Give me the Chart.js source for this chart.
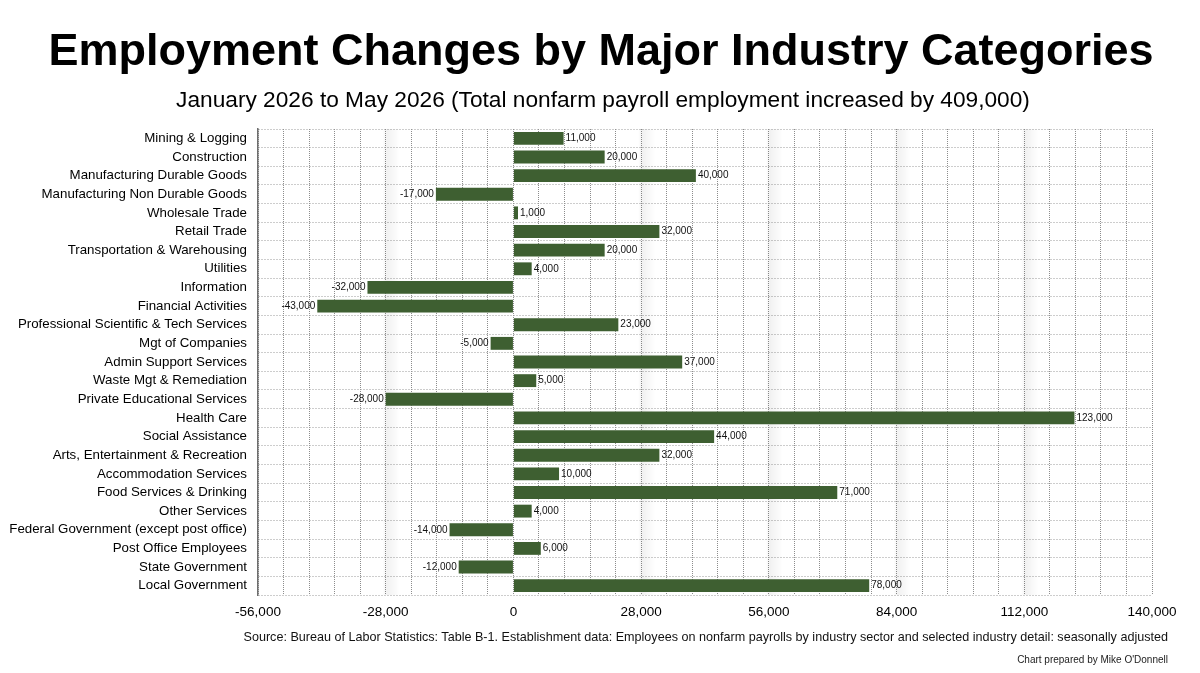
<!DOCTYPE html>
<html>
<head>
<meta charset="utf-8">
<script src="https://cdn.jsdelivr.net/npm/chart.js@4.4.1/dist/chart.umd.min.js"></script>
<style>
  html, body { margin: 0; padding: 0; background: #fff; }
  #wrap { position: relative; width: 1200px; height: 673px; }
  #chart { position: absolute; left: 0; top: 0; }
  .txt { position: absolute; font-family: "Liberation Sans", Arial, sans-serif; color: #000; white-space: nowrap; line-height: 1; }
  #title { left: 0; width: 1202px; top: 27px; text-align: center; font-size: 45px; font-weight: bold; }
  #subtitle { left: 0; width: 1206px; top: 88px; text-align: center; font-size: 22.7px; }
  #source { right: 32px; top: 631px; font-size: 12.6px; color: #111; }
  #credit { right: 32px; top: 655px; font-size: 10px; color: #222; }
</style>
</head>
<body>
<div id="wrap">
  <canvas id="chart" width="1200" height="673"></canvas>
  <div id="title" class="txt">Employment Changes by Major Industry Categories</div>
  <div id="subtitle" class="txt">January 2026 to May 2026 (Total nonfarm payroll employment increased by 409,000)</div>
  <div id="source" class="txt">Source: Bureau of Labor Statistics: Table B-1. Establishment data: Employees on nonfarm payrolls by industry sector and selected industry detail: seasonally adjusted</div>
  <div id="credit" class="txt">Chart prepared by Mike O'Donnell</div>
</div>
<script>
// 산업별 고용 변화 (2026년 1월 ~ 5월)
const industries = [
	'Mining & Logging',
	'Construction',
	'Manufacturing Durable Goods',
	'Manufacturing Non Durable Goods',
	'Wholesale Trade',
	'Retail Trade',
	'Transportation & Warehousing',
	'Utilities',
	'Information',
	'Financial Activities',
	'Professional Scientific & Tech Services',
	'Mgt of Companies',
	'Admin Support Services',
	'Waste Mgt & Remediation',
	'Private Educational Services',
	'Health Care',
	'Social Assistance',
	'Arts, Entertainment & Recreation',
	'Accommodation Services',
	'Food Services & Drinking',
	'Other Services',
	'Federal Government (except post office)',
	'Post Office Employees',
	'State Government',
	'Local Government'
];

const changes = [
	11000, 20000, 40000, -17000, 1000, 32000, 20000, 4000, -32000, -43000,
	23000, -5000, 37000, 5000, -28000, 123000, 44000, 32000, 10000, 71000,
	4000, -14000, 6000, -12000, 78000
];

// x축 눈금: 5,600 간격 격자, 28,000 마다 라벨
const axisMin = -56000;
const axisMax = 140000;
const gridStep = 5600;
const labelStep = 28000;

const fontFamily = '"Liberation Sans", Arial, Helvetica, sans-serif';
const barColor = '#3e5f31';
const gridColor = '#8c8c8c';

// 주 눈금 옆의 옅은 회색 띠
const bandPlugin = {
	id: 'bands',
	beforeDatasetsDraw(chart) {
		const { ctx, chartArea, scales } = chart;
		const x = scales.x;
		ctx.save();
		for (let v = axisMin + labelStep; v < axisMax; v += labelStep) {
			if (v === 0) continue;
			const px = x.getPixelForValue(v);
			const g = ctx.createLinearGradient(px - 3, 0, px + 14, 0);
			g.addColorStop(0, 'rgba(0,0,0,0)');
			g.addColorStop(0.25, 'rgba(0,0,0,0.055)');
			g.addColorStop(1, 'rgba(0,0,0,0)');
			ctx.fillStyle = g;
			ctx.fillRect(px - 3, chartArea.top, 17, chartArea.bottom - chartArea.top);
		}
		ctx.restore();
	}
};

// 막대 끝 값 라벨
const valueLabelPlugin = {
	id: 'valueLabels',
	afterDatasetsDraw(chart) {
		const { ctx } = chart;
		const meta = chart.getDatasetMeta(0);
		ctx.save();
		ctx.font = '10px ' + fontFamily;
		ctx.fillStyle = '#111';
		ctx.textBaseline = 'middle';
		meta.data.forEach((bar, i) => {
			const v = changes[i];
			const text = v.toLocaleString('en-US');
			if (v >= 0) {
				ctx.textAlign = 'left';
				ctx.fillText(text, bar.x + 2, bar.y);
			} else {
				ctx.textAlign = 'right';
				ctx.fillText(text, bar.x - 2, bar.y);
			}
		});
		ctx.restore();
	}
};

const ctx = document.getElementById('chart').getContext('2d');

new Chart(ctx, {
	type: 'bar',
	data: {
		labels: industries,
		datasets: [{
			label: 'Employment change',
			data: changes,
			backgroundColor: barColor,
			borderWidth: 0,
			categoryPercentage: 1,
			barPercentage: 0.69
		}]
	},
	options: {
		indexAxis: 'y',
		responsive: false,
		animation: false,
		layout: {
			padding: { top: 129, right: 48, bottom: 0, left: 0 }
		},
		plugins: {
			legend: { display: false },
			tooltip: { enabled: false }
		},
		scales: {
			x: {
				type: 'linear',
				min: axisMin,
				max: axisMax,
				afterFit(scale) { scale.height = 78; },
				ticks: {
					stepSize: gridStep,
					autoSkip: false,
					maxRotation: 0,
					padding: 9,
					color: '#000',
					font: { family: fontFamily, size: 13.5 },
					callback: function(value) {
						const v = Math.round(value);
						return v % labelStep === 0 ? v.toLocaleString('en-US') : '';
					}
				},
				grid: {
					color: gridColor,
					lineWidth: 1,
					drawTicks: false
				},
				border: { display: false, dash: [1, 1] }
			},
			y: {
				afterFit(scale) { scale.width = 258; },
				ticks: {
					autoSkip: false,
					padding: 11,
					color: '#000',
					font: { family: fontFamily, size: 13.3 }
				},
				grid: {
					color: '#9a9a9a',
					lineWidth: 1,
					drawTicks: false
				},
				border: { display: true, color: '#6e6e6e', width: 1.5, dash: [1, 2] }
			}
		}
	},
	plugins: [bandPlugin, valueLabelPlugin]
});
</script>
</body>
</html>
